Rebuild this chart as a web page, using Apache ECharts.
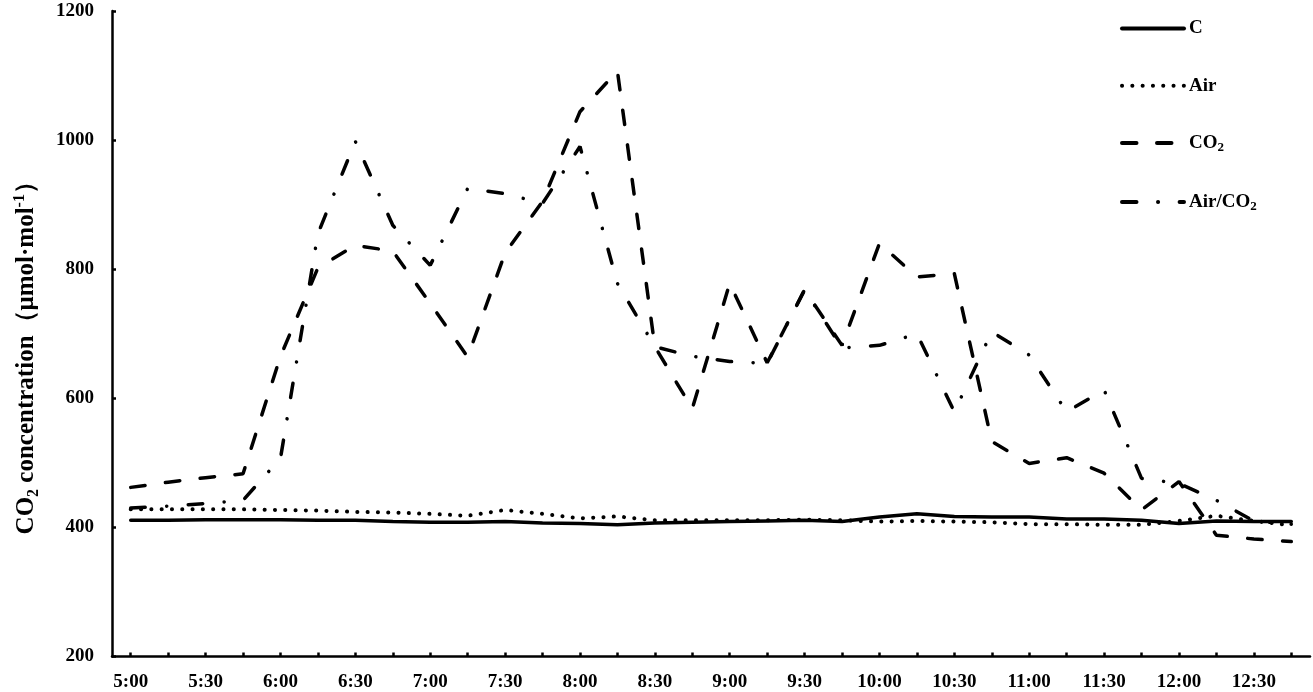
<!DOCTYPE html>
<html>
<head>
<meta charset="utf-8">
<script src="https://cdn.jsdelivr.net/npm/echarts@6/dist/echarts.min.js"></script>
<style>
html,body{margin:0;padding:0;background:#fff;}
#chart{width:1313px;height:692px;}
</style>
</head>
<body>
<div id="chart"></div>
<script>
const times = ['5:00','5:15','5:30','5:45','6:00','6:15','6:30','6:45','7:00','7:15','7:30','7:45',
  '8:00','8:15','8:30','8:45','9:00','9:15','9:30','9:45','10:00','10:15','10:30','10:45',
  '11:00','11:15','11:30','11:45','12:00','12:15','12:30','12:45'];
const seriesNames = ['C', 'Air', 'CO2', 'Air/CO2'];
const valuesC = [411,411,412,412,412,411,411,409,408,408,409,407,406,404,407,408,409,410,411,409,416,421,417,416,416,413,413,411,406,410,409,409];
const valuesAir = [428,428,428,428,427,426,424,423,421,418,427,421,414,417,411,411,411,411,412,411,409,410,409,408,405,405,404,404,410,418,410,403];
const valuesCO2 = [462,470,477,483,665,802,837,828,747,664,825,905,1044,1107,680,584,778,655,768,682,840,788,793,533,499,508,484,427,471,388,382,378];
const valuesAirCO2 = [430,433,437,442,507,855,998,868,806,925,917,902,990,778,680,665,657,654,768,678,682,700,579,703,667,579,613,476,468,442,410,405];
const yTicks = {min: 200, max: 1200, interval: 200};

const serif = '"Liberation Serif", "Times New Roman", serif';
const chart = echarts.init(document.getElementById('chart'), null, {renderer: 'canvas'});

function legendFmt(name) {
  if (name === 'CO2') return '{b|CO}{s|2}';
  if (name === 'Air/CO2') return '{b|Air/CO}{s|2}';
  return '{b|' + name + '}';
}

const styles = {
  'C': {width: 3.5, type: 'solid', cap: 'round'},
  'Air': {width: 4, type: [0.1, 10.2], cap: 'round'},
  'CO2': {width: 3.5, type: [14.5, 20.5], cap: 'round'},
  'Air/CO2': {width: 3.5, type: [14.5, 21.5, 0.1, 21.5], cap: 'round'}
};
const dataMap = {'C': valuesC, 'Air': valuesAir, 'CO2': valuesCO2, 'Air/CO2': valuesAirCO2};

chart.setOption({
  animation: false,
  backgroundColor: '#fff',
  grid: {left: 112, right: 3, top: 11, bottom: 35.5, containLabel: false, outerBoundsMode: 'none'},
  legend: {
    orient: 'vertical',
    left: 1120,
    top: 19,
    padding: 0,
    itemWidth: 62,
    itemHeight: 18,
    itemGap: 38.3,
    itemTextGap: 5,
    itemStyle: {opacity: 0},
    data: seriesNames.map(n => ({
      name: n,
      itemStyle: {opacity: 0},
      lineStyle: Object.assign({color: '#000', opacity: 1}, styles[n], {width: 4})
    })),
    formatter: legendFmt,
    textStyle: {
      color: '#000',
      rich: {
        b: {fontFamily: serif, fontWeight: 'bold', fontSize: 19, lineHeight: 22, color: '#000'},
        s: {fontFamily: serif, fontWeight: 'bold', fontSize: 13, lineHeight: 12, verticalAlign: 'bottom', color: '#000'}
      }
    }
  },
  xAxis: {
    type: 'category',
    data: times,
    boundaryGap: true,
    axisLine: {lineStyle: {color: '#000', width: 2.5}},
    axisTick: {show: true, inside: true, length: 4, alignWithLabel: true, interval: 0, lineStyle: {color: '#000', width: 2.5}},
    axisLabel: {interval: 1, margin: 16, color: '#000', fontFamily: serif, fontWeight: 'bold', fontSize: 19},
    splitLine: {show: false}
  },
  yAxis: {
    type: 'value',
    min: yTicks.min,
    max: yTicks.max,
    interval: yTicks.interval,
    name: '{t|CO}{sub|2}{t| concentration（μmol·mol}{sup|-1}{t|）}',
    nameLocation: 'middle',
    nameGap: 70,
    nameTextStyle: {
      color: '#000',
      padding: [0, 36, 0, 0],
      rich: {
        t: {fontFamily: serif, fontWeight: 'bold', fontSize: 25, lineHeight: 30, color: '#000'},
        sub: {fontFamily: serif, fontWeight: 'bold', fontSize: 16, lineHeight: 14, verticalAlign: 'bottom', color: '#000'},
        sup: {fontFamily: serif, fontWeight: 'bold', fontSize: 16, lineHeight: 18, verticalAlign: 'top', color: '#000'}
      }
    },
    axisLine: {show: true, lineStyle: {color: '#000', width: 2.5}},
    axisTick: {show: true, inside: true, length: 4, lineStyle: {color: '#000', width: 2.5}},
    axisLabel: {margin: 18, color: '#000', fontFamily: serif, fontWeight: 'bold', fontSize: 19,
      formatter: v => String(v)},
    splitLine: {show: false}
  },
  series: seriesNames.map(n => ({
    name: n,
    type: 'line',
    data: dataMap[n],
    symbol: 'none',
    smooth: false,
    lineStyle: Object.assign({color: '#000'}, styles[n]),
    itemStyle: {color: '#000'},
    emphasis: {disabled: true}
  }))
});
</script>
</body>
</html>
